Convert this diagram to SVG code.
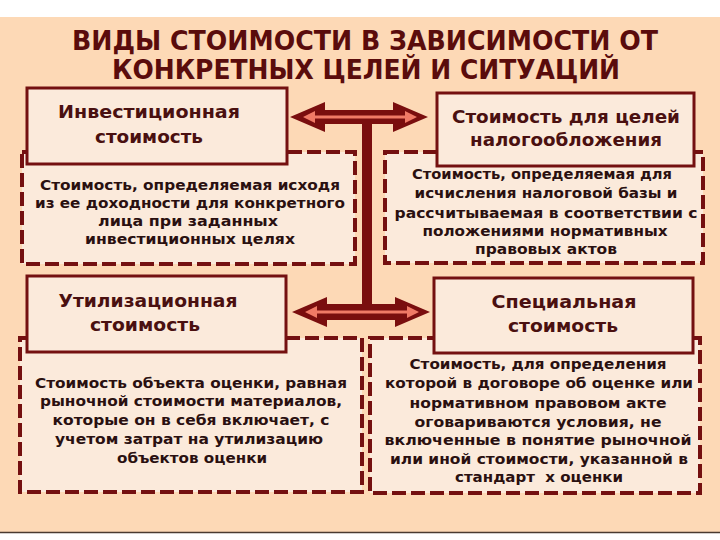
<svg xmlns="http://www.w3.org/2000/svg" width="720" height="540" viewBox="0 0 720 540">
<defs>
<style>
.bg{fill:#FDD9B6}
.dash{fill:#FBEADB;stroke:#741010;stroke-width:4;stroke-dasharray:14 5}
.head{fill:#FBEADB;stroke:#741010;stroke-width:3}
.title{font-family:"DejaVu Sans Condensed","DejaVu Sans",sans-serif;font-weight:bold;font-size:27px;fill:#5A0C0C;text-anchor:middle}
.h{font-family:"DejaVu Sans",sans-serif;font-weight:bold;font-size:18px;fill:#4A1010;text-anchor:middle}
.t{font-family:"DejaVu Sans",sans-serif;font-weight:bold;font-size:14px;fill:#2A1010;text-anchor:middle}
.arrow{fill:#7A0E0E}
.inner{fill:#F07A66}
</style>
</defs>
<rect x="0" y="0" width="720" height="540" fill="#FFFFFF"/>
<rect class="bg" x="0" y="17" width="720" height="515"/>
<line x1="0" y1="532.5" x2="720" y2="532.5" stroke="#4A3A30" stroke-width="1.5"/>

<g id="title">
<text class="title" x="365" y="50" textLength="586" lengthAdjust="spacingAndGlyphs">ВИДЫ  СТОИМОСТИ  В  ЗАВИСИМОСТИ  ОТ</text>
<text class="title" x="366" y="79" textLength="508" lengthAdjust="spacingAndGlyphs">КОНКРЕТНЫХ  ЦЕЛЕЙ  И  СИТУАЦИЙ</text>
</g>

<g id="connectors">
<rect class="arrow" x="362" y="112" width="10" height="200"/>
<polygon class="arrow" points="290,117 325,102 325,110 393,110 393,102 428,117 393,132 393,124 325,124 325,132"/>
<polygon class="inner" points="303,117 315,111 315,115.5 405,115.5 405,111 417,117 405,123 405,118.5 315,118.5 315,123"/>
<polygon class="arrow" points="292,312 327,297 327,304 395,304 395,297 430,312 395,327 395,320 327,320 327,327"/>
<polygon class="inner" points="305,312 317,306 317,310.5 407,310.5 407,306 419,312 407,318 407,313.5 317,313.5 317,318"/>
</g>

<g id="invest">
<rect class="dash" x="22" y="152" width="333" height="112"/>
<rect class="head" x="27" y="88" width="260" height="76"/>
<text class="h" x="149" y="118" textLength="182" lengthAdjust="spacingAndGlyphs">Инвестиционная</text>
<text class="h" x="149" y="143" textLength="108" lengthAdjust="spacingAndGlyphs">стоимость</text>
<text class="t" x="190" y="190" textLength="300" lengthAdjust="spacingAndGlyphs">Стоимость, определяемая исходя</text>
<text class="t" x="190" y="208" textLength="310" lengthAdjust="spacingAndGlyphs">из ее доходности для конкретного</text>
<text class="t" x="188" y="226" textLength="180" lengthAdjust="spacingAndGlyphs">лица при заданных</text>
<text class="t" x="190" y="244" textLength="210" lengthAdjust="spacingAndGlyphs">инвестиционных целях</text>
</g>

<g id="tax">
<rect class="dash" x="385" y="152" width="318" height="111"/>
<rect class="head" x="437" y="93" width="257" height="73"/>
<text class="h" x="566" y="123" textLength="228" lengthAdjust="spacingAndGlyphs">Стоимость для целей</text>
<text class="h" x="566" y="146" textLength="192" lengthAdjust="spacingAndGlyphs">налогообложения</text>
<text class="t" x="542" y="179" textLength="260" lengthAdjust="spacingAndGlyphs">Стоимость, определяемая для</text>
<text class="t" x="546" y="198" textLength="263" lengthAdjust="spacingAndGlyphs">исчисления налоговой базы и</text>
<text class="t" x="546" y="218" textLength="303" lengthAdjust="spacingAndGlyphs">рассчитываемая в соответствии с</text>
<text class="t" x="545" y="236" textLength="245" lengthAdjust="spacingAndGlyphs">положениями нормативных</text>
<text class="t" x="546" y="254" textLength="142" lengthAdjust="spacingAndGlyphs">правовых актов</text>
</g>

<g id="util">
<rect class="dash" x="20" y="338" width="342" height="154"/>
<rect class="head" x="27" y="276" width="259" height="76"/>
<text class="h" x="148" y="307" textLength="179" lengthAdjust="spacingAndGlyphs">Утилизационная</text>
<text class="h" x="145" y="331" textLength="110" lengthAdjust="spacingAndGlyphs">стоимость</text>
<text class="t" x="191" y="388" textLength="312" lengthAdjust="spacingAndGlyphs">Стоимость объекта оценки, равная</text>
<text class="t" x="191" y="406" textLength="302" lengthAdjust="spacingAndGlyphs">рыночной стоимости материалов,</text>
<text class="t" x="191" y="425" textLength="277" lengthAdjust="spacingAndGlyphs">которые он в себя включает, с</text>
<text class="t" x="189" y="444" textLength="268" lengthAdjust="spacingAndGlyphs">учетом затрат на утилизацию</text>
<text class="t" x="192" y="463" textLength="150" lengthAdjust="spacingAndGlyphs">объектов оценки</text>
</g>

<g id="special">
<rect class="dash" x="370" y="338" width="330" height="155"/>
<rect class="head" x="434" y="278" width="259" height="75"/>
<text class="h" x="564" y="308" textLength="145" lengthAdjust="spacingAndGlyphs">Специальная</text>
<text class="h" x="563" y="332" textLength="110" lengthAdjust="spacingAndGlyphs">стоимость</text>
<text class="t" x="538" y="369" textLength="257" lengthAdjust="spacingAndGlyphs">Стоимость, для определения</text>
<text class="t" x="539" y="388" textLength="308" lengthAdjust="spacingAndGlyphs">которой в договоре об оценке или</text>
<text class="t" x="538" y="408" textLength="257" lengthAdjust="spacingAndGlyphs">нормативном правовом акте</text>
<text class="t" x="538" y="427" textLength="247" lengthAdjust="spacingAndGlyphs">оговариваются условия, не</text>
<text class="t" x="538" y="445" textLength="307" lengthAdjust="spacingAndGlyphs">включенные в понятие рыночной</text>
<text class="t" x="539" y="464" textLength="298" lengthAdjust="spacingAndGlyphs">или иной стоимости, указанной в</text>
<text class="t" x="539" y="482" textLength="168" lengthAdjust="spacingAndGlyphs" xml:space="preserve">стандарт  х оценки</text>
</g>
</svg>
